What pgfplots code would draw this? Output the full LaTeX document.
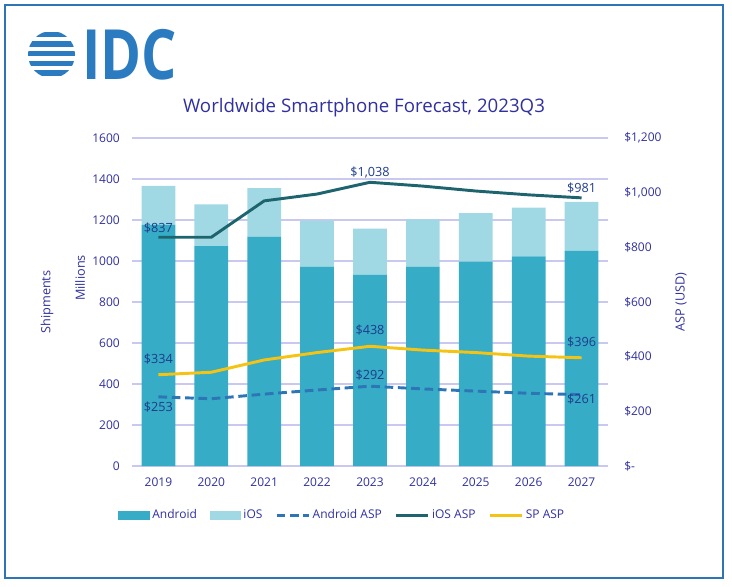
\documentclass[border=0pt]{standalone}
\usepackage{pgfplots}
\pgfplotsset{compat=1.18}
\usepackage{fontspec}
\setmainfont{Open Sans}
\definecolor{framec}{RGB}{46,117,182}
\definecolor{logoc}{RGB}{43,123,192}
\definecolor{textc}{RGB}{48,48,160}
\definecolor{labelc}{RGB}{30,60,140}
\definecolor{gridc}{RGB}{200,200,240}
\definecolor{androidc}{RGB}{54,172,198}
\definecolor{iosc}{RGB}{160,217,227}
\definecolor{iosaspc}{RGB}{30,100,110}
\definecolor{spaspc}{RGB}{245,195,20}
\definecolor{andaspc}{RGB}{46,117,182}
\pgfplotsset{
  lineleg/.style={legend image code/.code={\draw[##1] (0pt,0pt) -- (24pt,0pt);}},
  barleg/.style={legend image code/.code={\fill[#1] (0pt,-2.8pt) rectangle (23pt,2.8pt);}},
  dlab/.style={forget plot, draw=none, mark=none, nodes near coords, point meta=explicit symbolic,
    nodes near coords style={font=\fontsize{9.5}{11}\selectfont, text=labelc, anchor=center, yshift=#1}},
}
\pgfplotstableread{
x android ios andasp iosasp spasp
0 1176 190 253 837 334
1 1073 203 246 837 343
2 1119 237 263 970 388
3 972 225 278 995 415
4 932 226 292 1038 438
5 972 231 282 1024 424
6 997 237 274 1006 415
7 1023 237 266 992 402
8 1049 240 261 981 396
}\datatable
\begin{document}
\begin{tikzpicture}[x=0.75pt,y=0.75pt]
\path (0,0) rectangle (732,586);
\draw[framec, line width=1.1pt] (5,8) rectangle (723,581);
% logo
\begin{scope}
\clip (51.5,531.5) circle (23.5);
\foreach \yy in {31.7,41.4,51.1,60.8,70.5}{
  \fill[logoc] (20,586-\yy) rectangle (90,586-\yy-5.4);
}
\end{scope}
\node[anchor=base west, inner sep=0pt, text=logoc, xscale=0.80, font=\bfseries\fontsize{52}{56}\selectfont] at (82,506) {IDC};
% title
\node[text=textc, font=\fontsize{14}{16}\selectfont] at (364,478) {Worldwide Smartphone Forecast, 2023Q3};
% axis titles
\node[rotate=90, text=textc, font=\fontsize{9.5}{11}\selectfont] at (47,284) {Shipments};
\node[rotate=90, text=textc, font=\fontsize{9.5}{11}\selectfont] at (80,308) {Millions};
\node[rotate=90, text=textc, font=\fontsize{9.5}{11}\selectfont] at (681,284) {ASP (USD)};
\begin{axis}[
  at={(99pt,90pt)}, anchor=south west, scale only axis,
  width=357pt, height=246pt,
  xmin=-0.5, xmax=8.5, ymin=0, ymax=1600,
  ybar stacked, bar width=25.3pt,
  axis y line*=left, axis x line*=bottom,
  y axis line style={draw=none},
  x axis line style={draw=gridc, line width=0.8pt},
  xtick={0,...,8}, xticklabels={2019,2020,2021,2022,2023,2024,2025,2026,2027},
  ytick={0,200,...,1600},
  ymajorgrids, grid style={gridc, line width=0.8pt},
  major tick length=0pt,
  /pgf/number format/assume math mode=true,
  /pgf/number format/1000 sep={},
  tick label style={font=\fontsize{9}{11}\selectfont, text=textc},
  yticklabel style={inner sep=0pt, xshift=-9pt},
  xticklabel style={inner sep=0pt, yshift=-9pt},
]
\addplot[fill=androidc, draw=none] table[x=x, y=android] {\datatable};
\addplot[fill=iosc, draw=none] table[x=x, y=ios] {\datatable};
\end{axis}
\begin{axis}[
  at={(99pt,90pt)}, anchor=south west, scale only axis,
  width=357pt, height=246pt,
  xmin=-0.5, xmax=8.5, ymin=0, ymax=1200,
  axis y line*=right, axis x line=none,
  y axis line style={draw=none},
  ytick={0,200,...,1200},
  yticklabels={{\$-},{\$200},{\$400},{\$600},{\$800},{\$1,000},{\$1,200}},
  major tick length=0pt,
  tick label style={font=\fontsize{9}{11}\selectfont, text=textc},
  yticklabel style={inner sep=0pt, xshift=12pt, anchor=west},
  legend columns=5,
  legend style={at={(-0.029,-0.15)}, anchor=west, draw=none, fill=none,
    font=\fontsize{9}{11}\selectfont, text=textc, inner sep=0pt,
    nodes={inner sep=2pt},
    /tikz/every even column/.append style={column sep=7.5pt}},
]
\addlegendimage{barleg=androidc}
\addlegendentry{Android}
\addlegendimage{barleg=iosc}
\addlegendentry{iOS}
\addplot[andaspc, line width=2.2pt, dash pattern=on 6.5pt off 3.5pt, mark=none, lineleg] table[x=x, y=andasp] {\datatable};
\addlegendentry{Android ASP}
\addplot[iosaspc, line width=2.2pt, mark=none, lineleg] table[x=x, y=iosasp] {\datatable};
\addlegendentry{iOS ASP}
\addplot[spaspc, line width=2.2pt, mark=none, lineleg] table[x=x, y=spasp] {\datatable};
\addlegendentry{SP ASP}
% data labels
\addplot[dlab=7pt] coordinates {(0,837) [\$837] (4,1038) [{\$1,038}] (8,981) [\$981]};
\addplot[dlab=12pt] coordinates {(0,334) [\$334] (4,438) [\$438] (8,396) [\$396]};
\addplot[dlab=-8pt] coordinates {(0,253) [\$253]};
\addplot[dlab=8pt] coordinates {(4,292) [\$292]};
\addplot[dlab=-3pt] coordinates {(8,261) [\$261]};
\end{axis}
\end{tikzpicture}
\end{document}
